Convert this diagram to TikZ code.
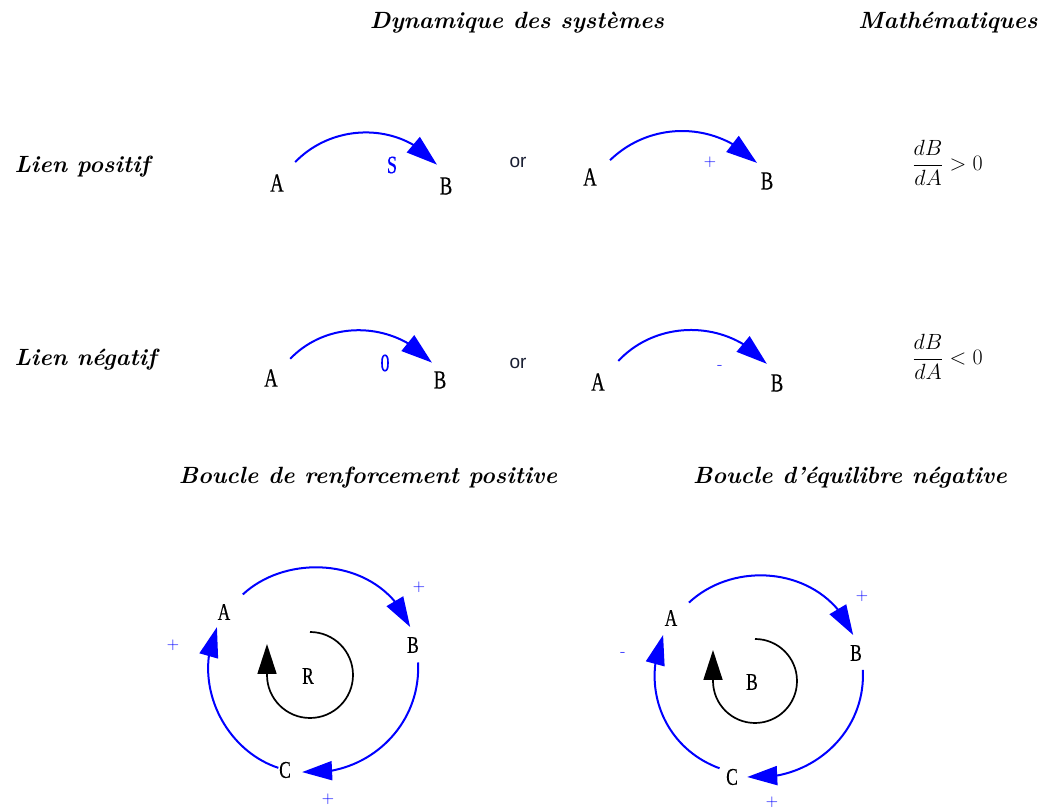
\RequirePackage{fix-cm}
\documentclass[tikz,border=0pt]{standalone}
\usepackage{fontspec}
\usepackage{amsmath}
\usepackage{tikz}
\usetikzlibrary{arrows.meta,bending}
\newfontfamily\letterfont{Liberation Serif}[FakeStretch=0.72,FakeBold=0.4]
\newfontfamily\orfont{Liberation Sans}
\definecolor{orink}{RGB}{25,30,50}

\tikzset{
  heading/.style={font=\fontsize{23.5}{28}\selectfont\bfseries\itshape},
  varnode/.style={circle, inner sep=0pt, font=\fontsize{26}{26}\selectfont\letterfont},
  loopnode/.style={circle, inner sep=0pt, font=\fontsize{24}{24}\selectfont\letterfont},
  weight/.style={text=blue, font=\fontsize{25}{25}\selectfont\letterfont},
  polarity/.style={text=blue, font=\fontsize{17}{17}\selectfont},
  orword/.style={text=orink, font=\fontsize{19}{19}\selectfont\orfont},
  formula/.style={font=\fontsize{22}{26}\selectfont},
  link/.style={blue, line width=2pt, -{Triangle[length=31pt,width=20pt]}},
  looplink/.style={blue, line width=2pt, -{Triangle[length=30pt,width=19pt]}},
  cyclemark/.style={black, line width=1.7pt, -{Triangle[length=30pt,width=19pt]}},
}

\begin{document}
\begin{tikzpicture}[x=1pt,y=1pt]
\useasboundingbox (0,0) rectangle (1046,810);

% headings
\node[heading] (dyn) at (517,787) {Dynamique des systèmes};
\node[heading, anchor=east] (maths) at (1041,787) {Mathématiques};
\node[heading, anchor=west] (pos) at (11,643) {Lien positif};
\node[heading, anchor=west] (neg) at (11,450) {Lien négatif};
\node[heading] (reinf) at (368,332) {Boucle de renforcement positive};
\node[heading] (bal) at (850,332) {Boucle d’équilibre négative};

% positive link
\node[varnode, minimum size=55pt] (a1) at (277,627) {A};
\node[varnode, minimum size=46pt] (b1) at (446,624) {B};
\draw[link] (a1.49) to[out=46,in=130] (b1.113);
\node[weight] (s1) at (392,645) {S};
\node[orword] (or1) at (518,648) {or};
\node[varnode, minimum size=52pt] (a2) at (590,633) {A};
\node[varnode, minimum size=41pt] (b2) at (767,629) {B};
\draw[link] (a2.40) to[out=44,in=134] (b2.119);
\node[polarity] (p2) at (710,648) {+};
\node[formula, anchor=west] (m1) at (909,647) {$\dfrac{dB}{dA}>0$};

% negative link
\node[varnode, minimum size=54pt] (a3) at (271,432) {A};
\node[varnode, minimum size=38pt] (b3) at (440,430) {B};
\draw[link] (a3.45) to[out=46,in=132] (b3.115);
\node[weight] (o3) at (385,447) {0};
\node[orword] (or2) at (518,447) {or};
\node[varnode, minimum size=58pt] (a4) at (598,428) {A};
\node[varnode, minimum size=43pt] (b4) at (777,427) {B};
\draw[link] (a4.46) to[out=47,in=131] (b4.118);
\node[polarity] (n4) at (720,443) {-};
\node[formula, anchor=west] (m2) at (909,453) {$\dfrac{dB}{dA}<0$};

% reinforcing loop
\node[loopnode, minimum size=33pt] (ra) at (224,198) {A};
\node[loopnode, minimum size=36pt] (rb) at (413,165) {B};
\node[loopnode, minimum size=34pt] (rc) at (285,40) {C};
\node[loopnode] (rr) at (308,134) {R};
\draw[looplink, shorten <=9pt] (ra.43) to[out=43,in=112,looseness=1.08] (rb.99);
\draw[looplink] (rb.-74) to[out=-87,in=-5,looseness=1.03] (rc.-7);
\draw[looplink, shorten <=7pt] (rc.center) to[out=162,in=-114,looseness=1.03] (ra.245);
\node[polarity] (rp1) at (419,223) {+};
\node[polarity] (rp2) at (173,165) {+};
\node[polarity] (rp3) at (328,11) {+};
\draw[cyclemark] (rr.center) ++(2,44) arc[start angle=90,end angle=-180,radius=43pt] -- ++(0,31);

% balancing loop
\node[loopnode, minimum size=37pt] (ba) at (671,192) {A};
\node[loopnode, minimum size=36pt] (bb) at (856,157) {B};
\node[loopnode, minimum size=30pt] (bc) at (732,33) {C};
\node[loopnode] (bm) at (752,128) {B};
\draw[looplink, shorten <=5pt] (ba.40) to[out=43,in=112,looseness=1.08] (bb.99);
\draw[looplink] (bb.-68) to[out=-87,in=-5,looseness=1.03] (bc.0);
\draw[looplink] (bc.145) to[out=160,in=-113,looseness=1.03] (ba.245);
\node[polarity] (bp1) at (862,214) {+};
\node[polarity] (bp2) at (623,156) {-};
\node[polarity] (bp3) at (772,8) {+};
\draw[cyclemark] (bm.center) ++(3,43) arc[start angle=90,end angle=-180,radius=42pt] -- ++(0,31);
\end{tikzpicture}
\end{document}
